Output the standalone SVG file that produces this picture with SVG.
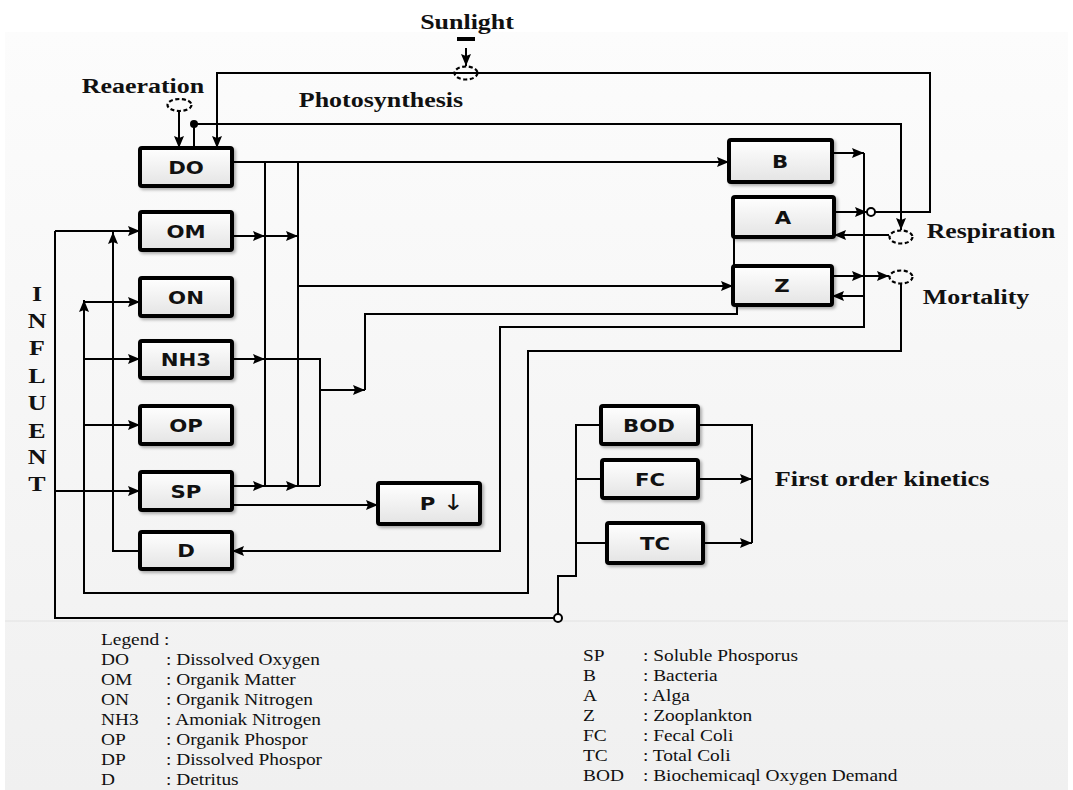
<svg xmlns="http://www.w3.org/2000/svg" width="1073" height="790" viewBox="0 0 1073 790">
<defs>
<linearGradient id="bg" x1="0" y1="0" x2="0" y2="1">
<stop offset="0" stop-color="#fcfcfc"/>
<stop offset="1" stop-color="#f0f0f0"/>
</linearGradient>
<linearGradient id="bx" x1="0" y1="0" x2="0" y2="1">
<stop offset="0" stop-color="#ffffff"/>
<stop offset="1" stop-color="#e4e4e4"/>
</linearGradient>
<filter id="sh" x="-10%" y="-20%" width="130%" height="150%">
<feDropShadow dx="2" dy="2" stdDeviation="1.5" flood-color="#000" flood-opacity="0.3"/>
</filter>
<marker id="arr" markerUnits="userSpaceOnUse" markerWidth="13" markerHeight="10" refX="12" refY="5" orient="auto">
<path d="M0,0 L12,5 L0,10 L2,5 z" fill="#000"/>
</marker>
</defs>
<style>
.box{fill:url(#bx);stroke:#000;stroke-width:4;filter:url(#sh)}
.lbl{font-family:"DejaVu Sans",sans-serif;font-weight:bold;font-size:18px;text-anchor:middle;fill:#111}
.big{font-family:"Liberation Serif","Times New Roman",serif;font-weight:bold;font-size:22px;text-anchor:middle;fill:#111}
.lg{font-family:"Liberation Serif","Times New Roman",serif;font-size:17px;fill:#111}
.ln{fill:none;stroke:#000;stroke-width:2}
.ar{fill:none;stroke:#000;stroke-width:2;marker-end:url(#arr)}
.ell{fill:none;stroke:#000;stroke-width:2.2;stroke-dasharray:4 2.5}
</style>
<rect x="0" y="0" width="1073" height="790" fill="#ffffff"/>
<rect x="5" y="32" width="1063" height="758" fill="url(#bg)"/>
<line x1="5" y1="621" x2="1068" y2="621" stroke="#e2e2e2" stroke-width="1"/>

<g id="connectors">
<path class="ar" d="M875,212 H930 V73 H217 V148"/>
<path class="ar" d="M194,124 H901 V230"/>
<path class="ln" d="M194,124 V148"/>
<circle cx="194" cy="124" r="4" fill="#000"/>
<path class="ar" d="M179,111 V148"/>
<path class="ar" d="M466,48 V66"/>
<path class="ar" d="M232,162 H729"/>
<path class="ln" d="M265,162 V486 M298,162 V486"/>
<path class="ar" d="M232,236 H265"/>
<path class="ar" d="M265,236 H298"/>
<path class="ar" d="M298,286 H733"/>
<path class="ar" d="M232,359 H265"/>
<path class="ln" d="M265,359 H320 V486"/>
<path class="ar" d="M232,486 H265"/>
<path class="ar" d="M265,486 H298"/>
<path class="ln" d="M298,486 H320"/>
<path class="ar" d="M320,390 H365"/>
<path class="ln" d="M365,390 V314 H737 V305"/>
<path class="ar" d="M232,505 H378"/>
<path class="ar" d="M832,153 H864"/>
<path class="ar" d="M864,153 V327 H500 V551 H232"/>
<path class="ar" d="M834,212 H867"/>
<circle cx="871" cy="212" r="4" fill="#fff" stroke="#000" stroke-width="2"/>
<path class="ar" d="M832,276 H864"/>
<path class="ar" d="M864,276 H889"/>
<path class="ar" d="M864,296 H832"/>
<path class="ar" d="M889,235 H834"/>
<path class="ln" d="M734,237 V266"/>
<path class="ar" d="M901,284 V351 H528 V593 H84 V300"/>
<path class="ar" d="M84,302 H140"/>
<path class="ar" d="M84,359 H140"/>
<path class="ar" d="M84,425 H140"/>
<path class="ar" d="M140,551 H113 V232"/>
<path class="ar" d="M55,231 H140"/>
<path class="ln" d="M55,231 V618 H554"/>
<path class="ar" d="M55,491 H140"/>
<circle cx="558" cy="618" r="4" fill="#fff" stroke="#000" stroke-width="2"/>
<path class="ln" d="M558,614 V576 H576 V425 H601 M576,479 H602 M576,543 H607"/>
<path class="ln" d="M698,425 H752 V543"/>
<path class="ar" d="M698,479 H752"/>
<path class="ar" d="M703,543 H752"/>
</g>

<g id="sunlight">
<rect x="457" y="37" width="18" height="4" fill="#000"/>
<text class="big" transform="translate(467,29) scale(1.18,1)">Sunlight</text>
</g>
<g id="photosynthesis">
<ellipse class="ell" cx="466" cy="73" rx="11.5" ry="6.5"/>
<text class="big" transform="translate(381,107) scale(1.18,1)">Photosynthesis</text>
</g>
<g id="reaeration">
<ellipse class="ell" cx="179.5" cy="105" rx="12" ry="6"/>
<text class="big" transform="translate(143,93) scale(1.18,1)">Reaeration</text>
</g>
<g id="respiration">
<ellipse class="ell" cx="901" cy="237" rx="11.5" ry="6.5"/>
<text class="big" transform="translate(991,238) scale(1.17,1)">Respiration</text>
</g>
<g id="mortality">
<ellipse class="ell" cx="901" cy="277" rx="11.5" ry="6.5"/>
<text class="big" transform="translate(976,304) scale(1.18,1)">Mortality</text>
</g>
<g id="first-order">
<text class="big" transform="translate(882,486) scale(1.19,1)">First order kinetics</text>
</g>
<g id="influent">
<text class="big" transform="translate(37,301) scale(1.18,1)">I</text>
<text class="big" transform="translate(37,328) scale(1.18,1)">N</text>
<text class="big" transform="translate(37,355) scale(1.18,1)">F</text>
<text class="big" transform="translate(37,383) scale(1.18,1)">L</text>
<text class="big" transform="translate(37,410) scale(1.18,1)">U</text>
<text class="big" transform="translate(37,438) scale(1.18,1)">E</text>
<text class="big" transform="translate(37,464) scale(1.18,1)">N</text>
<text class="big" transform="translate(37,491) scale(1.18,1)">T</text>
</g>

<g id="DO"><rect class="box" x="140" y="148" width="92" height="38" rx="2"/><text class="lbl" transform="translate(186,173.5) scale(1.18,1)">DO</text></g>
<g id="OM"><rect class="box" x="140" y="212" width="92" height="38" rx="2"/><text class="lbl" transform="translate(186,237.5) scale(1.18,1)">OM</text></g>
<g id="ON"><rect class="box" x="140" y="278" width="92" height="38" rx="2"/><text class="lbl" transform="translate(186,303.5) scale(1.18,1)">ON</text></g>
<g id="NH3"><rect class="box" x="140" y="341" width="92" height="37" rx="2"/><text class="lbl" transform="translate(186,366) scale(1.18,1)">NH3</text></g>
<g id="OP"><rect class="box" x="140" y="406" width="92" height="38" rx="2"/><text class="lbl" transform="translate(186,431.5) scale(1.18,1)">OP</text></g>
<g id="SP"><rect class="box" x="140" y="472" width="92" height="38" rx="2"/><text class="lbl" transform="translate(186,497.5) scale(1.18,1)">SP</text></g>
<g id="D"><rect class="box" x="140" y="532" width="92" height="37" rx="2"/><text class="lbl" transform="translate(186,557) scale(1.18,1)">D</text></g>
<g id="P"><rect class="box" x="378" y="483" width="102" height="41" rx="2"/><text class="lbl" transform="translate(442,510) scale(1.18,1)">P <tspan font-weight="normal" font-size="22">↓</tspan></text></g>
<g id="B"><rect class="box" x="729" y="140" width="103" height="42" rx="2"/><text class="lbl" transform="translate(780,167.5) scale(1.18,1)">B</text></g>
<g id="A"><rect class="box" x="733" y="197" width="101" height="40" rx="2"/><text class="lbl" transform="translate(783,223.5) scale(1.18,1)">A</text></g>
<g id="Z"><rect class="box" x="733" y="266" width="99" height="39" rx="2"/><text class="lbl" transform="translate(782,292) scale(1.18,1)">Z</text></g>
<g id="BOD"><rect class="box" x="601" y="406" width="97" height="38" rx="2"/><text class="lbl" transform="translate(649,431.5) scale(1.18,1)">BOD</text></g>
<g id="FC"><rect class="box" x="602" y="460" width="96" height="38" rx="2"/><text class="lbl" transform="translate(650,485.5) scale(1.18,1)">FC</text></g>
<g id="TC"><rect class="box" x="607" y="523" width="96" height="40" rx="2"/><text class="lbl" transform="translate(655,549.5) scale(1.18,1)">TC</text></g>

<g id="legend" transform="scale(1.14,1)">
<text class="lg" x="88.6" y="645">Legend :</text>
<text class="lg" x="88.6" y="665">DO</text><text class="lg" x="145.6" y="665">: Dissolved Oxygen</text>
<text class="lg" x="88.6" y="685">OM</text><text class="lg" x="145.6" y="685">: Organik Matter</text>
<text class="lg" x="88.6" y="705">ON</text><text class="lg" x="145.6" y="705">: Organik Nitrogen</text>
<text class="lg" x="88.6" y="725">NH3</text><text class="lg" x="145.6" y="725">: Amoniak Nitrogen</text>
<text class="lg" x="88.6" y="745">OP</text><text class="lg" x="145.6" y="745">: Organik Phospor</text>
<text class="lg" x="88.6" y="765">DP</text><text class="lg" x="145.6" y="765">: Dissolved Phospor</text>
<text class="lg" x="88.6" y="785">D</text><text class="lg" x="145.6" y="785">: Detritus</text>
<text class="lg" x="511.4" y="661">SP</text><text class="lg" x="564" y="661">: Soluble Phosporus</text>
<text class="lg" x="511.4" y="681">B</text><text class="lg" x="564" y="681">: Bacteria</text>
<text class="lg" x="511.4" y="701">A</text><text class="lg" x="564" y="701">: Alga</text>
<text class="lg" x="511.4" y="721">Z</text><text class="lg" x="564" y="721">: Zooplankton</text>
<text class="lg" x="511.4" y="741">FC</text><text class="lg" x="564" y="741">: Fecal Coli</text>
<text class="lg" x="511.4" y="761">TC</text><text class="lg" x="564" y="761">: Total Coli</text>
<text class="lg" x="511.4" y="781">BOD</text><text class="lg" x="564" y="781">: Biochemicaql Oxygen Demand</text>
</g>
</svg>
